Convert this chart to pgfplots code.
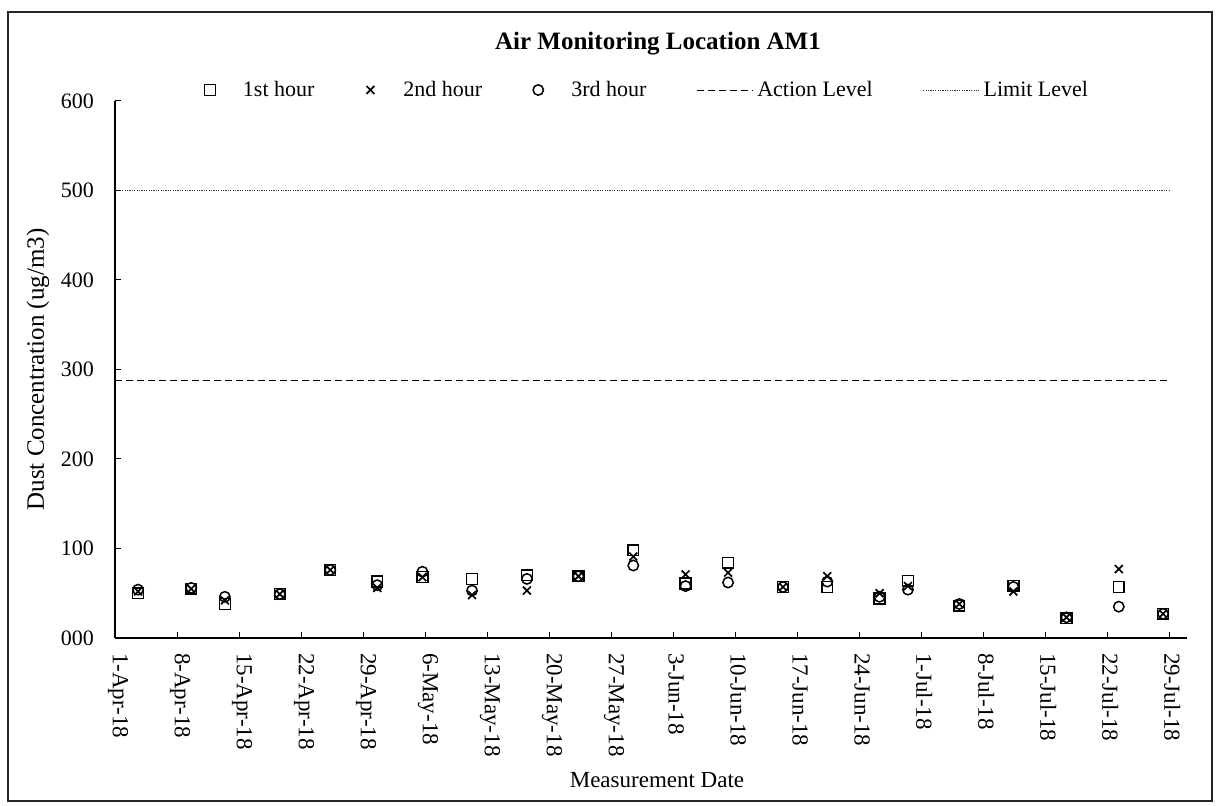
\documentclass[border=0pt]{standalone}
\usepackage{fontspec}
\setmainfont{Liberation Serif}
\usepackage{pgfplots}
\usepackage{pgfplotstable}
\pgfplotsset{compat=1.18}

\newcommand\sz[1]{\fontsize{#1}{#1}\selectfont}

% legend samples: a single mark with room after it, and a short line
\pgfplotsset{
  marklegend/.style={legend image code/.code={%
    \path[draw=none, fill=none] (0pt,0pt) -- (17.5pt,0pt);
    \draw[##1] plot coordinates {(3pt,0pt)};}},
  linelegend/.style={legend image code/.code={%
    \draw[##1] (0pt,0pt) -- (28pt,0pt);}},
}

% day = days after 1-Apr-18; one row per sampling visit
\pgfplotstableread{
day   first second third
2.6   50    52     54
8.6   55    55     56
12.4  38    42     46
18.6  49    49     49
24.3  76    76     76
29.6  63    56     59
34.7  68    68     74
40.3  66    48     53
46.5  70    53     66
52.3  69    69     69
58.5  98    91     81
64.4  61    71     58
69.2  84    73     62
75.4  57    57     57
80.4  57    69     63
86.3  44    50     46
89.5  64    58     54
95.3  36    38     38
101.4 58    52     57
107.4 22    23     23
113.3 57    77     35
118.3 27    27     27
}\dusttable

\pgfplotstableread{
day  level
0    287.5
119  287.5
}\actiontable

\pgfplotstableread{
day  level
0    500
119  500
}\limittable

\begin{document}
\begin{tikzpicture}
\path (0,0) rectangle (613.5pt,403pt);
\draw[line width=0.8pt, black!85] (4pt,2.5pt) rectangle (606pt,397pt);
\begin{axis}[
  at={(57.5pt,84pt)}, anchor=south west,
  scale only axis, width=536pt, height=268.5pt,
  xmin=0, xmax=121, ymin=0, ymax=600,
  axis lines=left, axis line style={-, line width=0.7pt, black},
  tick align=inside, major tick length=3pt,
  tick style={black, line width=0.5pt},
  xtick={0,7,...,119},
  xticklabels={1-Apr-18,8-Apr-18,15-Apr-18,22-Apr-18,29-Apr-18,6-May-18,13-May-18,20-May-18,27-May-18,3-Jun-18,10-Jun-18,17-Jun-18,24-Jun-18,1-Jul-18,8-Jul-18,15-Jul-18,22-Jul-18,29-Jul-18},
  ytick={0,100,...,600},
  yticklabels={000,100,200,300,400,500,600},
  /pgf/number format/assume math mode=true,
  % after the rotation, xshift moves a label down and yshift moves it right
  xticklabel style={rotate=-90, anchor=west, font=\sz{11.5}, xshift=4pt, yshift=1.5pt},
  yticklabel style={font=\sz{11}, xshift=-7pt},
  title={\textbf{Air Monitoring Location AM1}},
  title style={at={(0.5,1)}, anchor=center, yshift=22.5pt, xshift=3.5pt, font=\sz{12.5}},
  xlabel={Measurement Date},
  xlabel style={at={(axis description cs:0.5,0)}, anchor=center, yshift=-71pt, xshift=3pt, font=\sz{11.5}},
  ylabel={Dust Concentration (ug/m3)},
  ylabel style={at={(axis description cs:0,0.5)}, anchor=center, yshift=38.5pt, font=\sz{12.5}},
  legend columns=5,
  legend cell align=left,
  legend style={at={(0.5,1)}, anchor=center, yshift=5.5pt, xshift=-1.5pt,
    draw=none, fill=none, font=\sz{11},
    /tikz/every even column/.append style={column sep=23pt}},
  clip=false,
]
\addplot[only marks, mark=square, mark size=2.7pt, black, line width=0.75pt, marklegend]
  table[x=day, y=first] {\dusttable};
\addlegendentry{1st hour}
\addplot[only marks, mark=x, mark size=2.8pt, black, line width=0.85pt, marklegend]
  table[x=day, y=second] {\dusttable};
\addlegendentry{2nd hour}
\addplot[only marks, mark=o, mark size=2.6pt, black, line width=0.75pt, marklegend]
  table[x=day, y=third] {\dusttable};
\addlegendentry{3rd hour}
\addplot[black, line width=0.45pt, dash pattern=on 3.5pt off 2pt, linelegend]
  table[x=day, y=level] {\actiontable};
\addlegendentry{Action Level}
\addplot[black!80, line width=0.4pt, dash pattern=on 0.6pt off 0.6pt, linelegend]
  table[x=day, y=level] {\limittable};
\addlegendentry{Limit Level}
\end{axis}
\end{tikzpicture}
\end{document}
